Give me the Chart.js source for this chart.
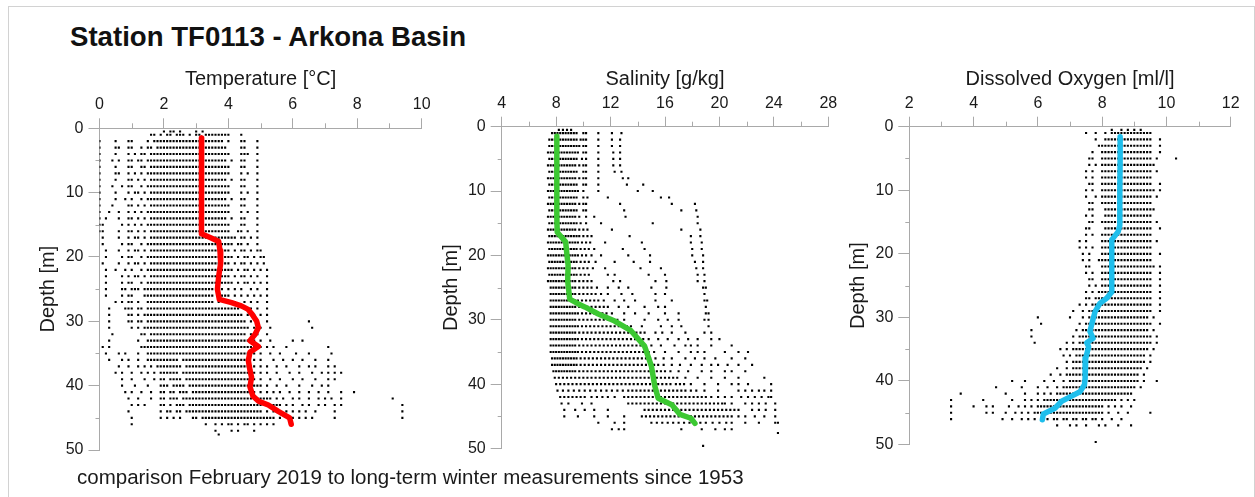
<!DOCTYPE html>
<html>
<head>
<meta charset="utf-8">
<title>Station TF0113 - Arkona Basin</title>
<script src="https://cdn.jsdelivr.net/npm/chart.js@4.4.1/dist/chart.umd.min.js"></script>
<style>
    body { margin: 0; background: #fff; font-family: "Liberation Sans", Arial, sans-serif; }
    #page { position: relative; width: 1255px; height: 497px; overflow: hidden; }
    #frame { position: absolute; left: 8px; top: 6px; width: 1245px; height: 520px; border: 1px solid #d2d2d2; }
    canvas { position: absolute; left: 0; top: 0; }
    #title { position: absolute; left: 70px; top: 22.6px; font-size: 27.6px; line-height: 27.6px; font-weight: bold; color: #111; white-space: nowrap; }
    #note { position: absolute; left: 77px; top: 466.6px; font-size: 20.5px; line-height: 20.5px; color: #1a1a1a; white-space: nowrap; }
</style>
</head>
<body>
<div id="page">
    <div id="frame"></div>
    <div id="title">Station TF0113 - Arkona Basin</div>
    <canvas id="tempChart" width="1255" height="497"></canvas>
    <canvas id="salChart" width="1255" height="497"></canvas>
    <canvas id="oxyChart" width="1255" height="497"></canvas>
    <div id="note">comparison February 2019 to long-term winter measurements since 1953</div>
</div>
<script>
// axis ticks
const tempTicksMinor = [1, 3, 5, 7, 9];
const salTicksMinor = [6, 10, 14, 18, 22, 26];
const oxyTicksMinor = [3, 5, 7, 9, 11];
const depthTicksMinor = [5, 15, 25, 35, 45];

// February 2019 profiles
const tempProfileDepth = [1.5, 4, 8, 12, 16.4, 17.0, 17.6, 19, 21, 23, 25, 26.6, 27.1, 27.6, 28.1, 29, 30, 31, 32, 33, 33.9, 34.8, 36.1, 37.6, 38.7, 40.2, 41.6, 42.4, 43, 44, 45, 46];
const tempProfile = [3.17, 3.16, 3.16, 3.16, 3.18, 3.45, 3.7, 3.74, 3.76, 3.7, 3.66, 3.72, 4.1, 4.4, 4.6, 4.75, 4.88, 4.93, 4.83, 4.67, 4.93, 4.67, 4.62, 4.67, 4.72, 4.67, 4.76, 4.93, 5.24, 5.55, 5.9, 5.95];

const salProfileDepth = [1.5, 5, 10, 14, 16.4, 17.9, 20, 21.5, 24, 26.8, 27.5, 28, 29.1, 30.2, 31.7, 34.1, 37.2, 40.3, 42.2, 43.2, 44.7, 45.3, 46.1];
const salProfile = [8.05, 8.05, 8.05, 8.05, 8.08, 8.7, 8.8, 8.88, 8.85, 9.0, 9.6, 10.1, 11.1, 12.3, 13.5, 14.5, 15.0, 15.25, 15.5, 16.5, 17.1, 17.9, 18.2];

const oxyProfileDepth = [1.6, 5, 10, 15.5, 16.5, 17.8, 20, 25, 26, 27, 27.8, 29.1, 31.2, 32.2, 33.3, 34, 34.6, 36.4, 39.6, 40.6, 41.7, 42.4, 43.2, 44.3, 45.2, 46.1];
const oxyProfile = [8.56, 8.56, 8.55, 8.55, 8.5, 8.3, 8.3, 8.3, 8.3, 8.14, 7.93, 7.78, 7.67, 7.62, 7.72, 7.52, 7.58, 7.49, 7.47, 7.45, 7.31, 7.05, 6.74, 6.53, 6.17, 6.14];

// long-term winter measurements since 1953, one row per depth [m]
const tempRows = [
    [0.5, '2.0 2.2 2.3 2.5 3.0 3.2'],
    [1, '1.6 1.7 1.9 2.1 2.2 2.4 2.5 2.6 2.8 3.0 3.1 3.3 3.4 3.5 3.6 3.7 3.8 3.9 4.0 4.4'],
    [2, '0.0 0.5 0.9 1.0 1.5 1.7 1.8 1.9 2.0 2.1 2.2 2.3 2.4 2.5 2.6 2.7 2.8 2.9 3.0 3.1 3.2 3.3 3.4 3.5 3.6 3.7 3.8 4.0 4.4 4.5 4.9'],
    [3, '0.0 0.5 0.6 0.9 1.0 1.3 1.5 1.6 1.8 1.9 2.0 2.1 2.2 2.3 2.4 2.5 2.6 2.7 2.8 2.9 3.0 3.1 3.2 3.3 3.4 3.5 3.6 3.7 3.8 3.9 4.4 4.5 4.9'],
    [4, '0.0 0.5 0.9 1.1 1.3 1.4 1.6 1.7 1.8 1.9 2.0 2.1 2.2 2.3 2.4 2.5 2.6 2.7 2.8 2.9 3.0 3.1 3.2 3.3 3.4 3.5 3.6 3.7 3.8 3.9 4.0 4.4 4.5 4.6 4.9'],
    [5, '0.0 0.4 0.6 0.9 1.0 1.2 1.3 1.5 1.6 1.7 1.8 1.9 2.0 2.1 2.2 2.3 2.4 2.5 2.6 2.7 2.8 2.9 3.0 3.1 3.2 3.3 3.4 3.5 3.6 3.7 3.8 3.9 4.1 4.4 4.5 4.9'],
    [6, '0.0 0.5 0.9 1.0 1.3 1.4 1.6 1.7 1.8 1.9 2.0 2.1 2.2 2.3 2.4 2.5 2.6 2.7 2.8 2.9 3.0 3.1 3.2 3.3 3.4 3.5 3.6 3.7 3.8 3.9 4.0 4.4 4.5 4.9'],
    [7, '0.0 0.5 0.6 0.9 1.1 1.3 1.5 1.6 1.7 1.8 1.9 2.0 2.1 2.2 2.3 2.4 2.5 2.6 2.7 2.8 2.9 3.0 3.1 3.2 3.3 3.4 3.5 3.6 3.7 3.8 3.9 4.0 4.4 4.6 4.9'],
    [8, '0.0 0.5 0.9 1.0 1.2 1.4 1.6 1.7 1.8 1.9 2.0 2.1 2.2 2.3 2.4 2.5 2.6 2.7 2.8 2.9 3.0 3.1 3.2 3.3 3.4 3.5 3.6 3.7 3.8 3.9 4.1 4.4 4.5 4.9'],
    [9, '0.0 0.4 0.7 0.9 1.0 1.3 1.5 1.6 1.7 1.8 1.9 2.0 2.1 2.2 2.3 2.4 2.5 2.6 2.7 2.8 2.9 3.0 3.1 3.2 3.3 3.4 3.5 3.6 3.7 3.8 3.9 4.0 4.4 4.5 4.9'],
    [10, '0.0 0.5 0.9 1.1 1.2 1.4 1.6 1.7 1.8 1.9 2.0 2.1 2.2 2.3 2.4 2.5 2.6 2.7 2.8 2.9 3.0 3.1 3.2 3.3 3.4 3.5 3.6 3.7 3.8 3.9 4.0 4.4 4.6 4.9'],
    [11, '0.0 0.5 0.8 1.0 1.3 1.5 1.6 1.7 1.8 1.9 2.0 2.1 2.2 2.3 2.4 2.5 2.6 2.7 2.8 2.9 3.0 3.1 3.2 3.3 3.4 3.5 3.6 3.7 3.8 3.9 4.1 4.4 4.5 4.9'],
    [12, '0.0 0.4 0.9 1.0 1.2 1.4 1.6 1.7 1.8 1.9 2.0 2.1 2.2 2.3 2.4 2.5 2.6 2.7 2.8 2.9 3.0 3.1 3.2 3.3 3.4 3.5 3.6 3.7 3.8 3.9 4.0 4.4 4.5 4.9'],
    [13, '0.0 0.3 0.6 0.9 1.1 1.3 1.5 1.6 1.7 1.8 1.9 2.0 2.1 2.2 2.3 2.4 2.5 2.6 2.7 2.8 2.9 3.0 3.1 3.2 3.3 3.4 3.5 3.6 3.7 3.8 3.9 4.0 4.4 4.6 4.9'],
    [14, '0.0 0.2 0.6 0.9 1.0 1.2 1.4 1.6 1.7 1.8 1.9 2.0 2.1 2.2 2.3 2.4 2.5 2.6 2.7 2.8 2.9 3.0 3.1 3.2 3.3 3.4 3.5 3.6 3.7 3.8 3.9 4.1 4.4 4.5 4.9'],
    [15, '0.0 0.1 0.7 0.9 1.1 1.3 1.5 1.6 1.7 1.8 1.9 2.0 2.1 2.2 2.3 2.4 2.5 2.6 2.7 2.8 2.9 3.0 3.1 3.2 3.3 3.4 3.5 3.6 3.7 3.8 3.9 4.0 4.4 4.5 4.9'],
    [16, '0.0 0.1 0.6 0.9 1.0 1.2 1.4 1.6 1.7 1.8 1.9 2.0 2.1 2.2 2.3 2.4 2.5 2.6 2.7 2.8 2.9 3.0 3.1 3.2 3.3 3.4 3.5 3.6 3.7 3.8 3.9 4.0 4.3 4.4 4.6 4.9'],
    [17, '0.1 0.6 0.9 1.1 1.2 1.4 1.6 1.7 1.8 1.9 2.0 2.1 2.2 2.3 2.4 2.5 2.6 2.7 2.8 2.9 3.0 3.1 3.2 3.3 3.4 3.5 3.6 3.7 3.8 3.9 4.0 4.1 4.2 4.4 4.5 4.7 4.9'],
    [18, '0.1 0.7 0.9 1.0 1.3 1.5 1.6 1.7 1.8 1.9 2.0 2.1 2.2 2.3 2.4 2.5 2.6 2.7 2.8 2.9 3.0 3.1 3.2 3.3 3.4 3.5 3.6 3.7 3.8 3.9 4.0 4.1 4.3 4.4 4.6 4.9'],
    [19, '0.2 0.6 0.9 1.1 1.2 1.4 1.6 1.7 1.8 1.9 2.0 2.1 2.2 2.3 2.4 2.5 2.6 2.7 2.8 2.9 3.0 3.1 3.2 3.3 3.4 3.5 3.6 3.7 3.8 3.9 4.0 4.2 4.4 4.5 4.7 4.9 5.0'],
    [20, '0.2 0.7 0.9 1.0 1.3 1.5 1.6 1.7 1.8 1.9 2.0 2.1 2.2 2.3 2.4 2.5 2.6 2.7 2.8 2.9 3.0 3.1 3.2 3.3 3.4 3.5 3.6 3.7 3.8 3.9 4.0 4.1 4.3 4.5 4.6 4.8 5.0 5.1'],
    [21, '0.1 0.6 0.9 1.1 1.2 1.4 1.6 1.7 1.8 1.9 2.0 2.1 2.2 2.3 2.4 2.5 2.6 2.7 2.8 2.9 3.0 3.1 3.2 3.3 3.4 3.5 3.6 3.7 3.8 3.9 4.0 4.2 4.4 4.5 4.7 4.9 5.1'],
    [22, '0.2 0.5 0.8 1.0 1.3 1.5 1.6 1.7 1.8 1.9 2.0 2.1 2.2 2.3 2.4 2.5 2.6 2.7 2.8 2.9 3.0 3.1 3.2 3.3 3.4 3.5 3.6 3.7 3.8 3.9 4.0 4.1 4.3 4.5 4.6 4.8 5.0 5.2'],
    [23, '0.2 0.7 0.9 1.1 1.2 1.4 1.6 1.7 1.8 1.9 2.0 2.1 2.2 2.3 2.4 2.5 2.6 2.7 2.8 2.9 3.0 3.1 3.2 3.3 3.4 3.5 3.6 3.7 3.8 3.9 4.0 4.2 4.4 4.5 4.7 4.9 5.2'],
    [24, '0.2 0.7 0.9 1.0 1.3 1.5 1.6 1.7 1.8 1.9 2.0 2.1 2.2 2.3 2.4 2.5 2.6 2.7 2.8 2.9 3.0 3.1 3.2 3.3 3.4 3.5 3.6 3.7 3.8 3.9 4.0 4.1 4.3 4.5 4.6 4.8 5.0 5.2'],
    [25, '0.2 0.7 0.8 1.0 1.1 1.2 1.4 1.5 1.6 1.7 1.8 1.9 2.0 2.1 2.2 2.3 2.4 2.5 2.6 2.7 2.8 2.9 3.0 3.1 3.2 3.3 3.4 3.5 3.7 3.8 4.0 4.2 4.4 4.7 4.9 5.2'],
    [26, '0.2 0.7 0.9 1.0 1.4 1.5 1.6 1.7 1.8 1.9 2.0 2.1 2.2 2.3 2.4 2.5 2.6 2.7 2.8 2.9 3.0 3.1 3.2 3.3 3.4 3.5 3.8 3.9 4.0 4.2 4.4 4.6 4.8 5.0 5.2'],
    [27, '0.5 0.7 0.9 1.0 1.2 1.5 1.6 1.7 1.8 1.9 2.0 2.1 2.2 2.3 2.4 2.5 2.6 2.7 2.8 2.9 3.0 3.1 3.2 3.3 3.4 3.5 3.7 3.9 4.0 4.2 4.5 4.7 4.9 5.2'],
    [28, '0.3 0.8 0.9 1.0 1.2 1.3 1.5 1.6 1.7 1.8 1.9 2.0 2.1 2.2 2.3 2.4 2.5 2.6 2.7 2.8 2.9 3.0 3.1 3.2 3.3 3.4 3.5 3.6 3.7 3.8 3.9 4.0 4.1 4.2 4.3 4.5 4.7 4.9 5.2'],
    [29, '0.3 0.9 1.0 1.2 1.4 1.5 1.6 1.7 1.8 1.9 2.0 2.1 2.2 2.3 2.4 2.5 2.6 2.7 2.8 2.9 3.0 3.1 3.2 3.3 3.4 3.5 3.6 3.7 3.8 3.9 4.0 4.1 4.2 4.3 4.4 4.6 4.8 5.0 5.2'],
    [30, '0.3 0.9 1.0 1.2 1.3 1.5 1.6 1.7 1.8 1.9 2.0 2.1 2.2 2.3 2.4 2.5 2.6 2.7 2.8 2.9 3.0 3.1 3.2 3.3 3.4 3.5 3.6 3.7 3.8 3.9 4.0 4.1 4.2 4.3 4.4 4.5 4.7 4.9 5.2 6.5'],
    [31, '0.3 1.0 1.2 1.4 1.5 1.6 1.7 1.8 1.9 2.0 2.1 2.2 2.3 2.4 2.5 2.6 2.7 2.8 2.9 3.0 3.1 3.2 3.3 3.4 3.5 3.6 3.7 3.8 3.9 4.0 4.1 4.2 4.3 4.4 4.5 4.6 4.8 5.0 5.3 6.6'],
    [32, '0.4 1.3 1.4 1.6 1.7 1.8 1.9 2.0 2.1 2.2 2.3 2.4 2.5 2.6 2.7 2.8 2.9 3.0 3.1 3.2 3.3 3.4 3.5 3.6 3.7 3.8 3.9 4.0 4.1 4.2 4.3 4.4 4.5 4.7 4.9 5.2'],
    [33, '0.3 1.2 1.5 1.6 1.7 1.8 1.9 2.0 2.1 2.2 2.3 2.4 2.5 2.6 2.7 2.8 2.9 3.0 3.1 3.2 3.3 3.4 3.5 3.6 3.7 3.8 3.9 4.0 4.1 4.2 4.3 4.4 4.5 4.6 4.8 5.0 5.3 6.0 6.3'],
    [34, '0.1 0.3 1.3 1.4 1.5 1.6 1.7 1.8 1.9 2.0 2.1 2.2 2.3 2.4 2.5 2.6 2.7 2.8 2.9 3.0 3.1 3.2 3.3 3.4 3.5 3.6 3.7 3.8 3.9 4.0 4.1 4.2 4.3 4.4 4.5 4.6 4.7 4.8 5.0 5.2 5.4 5.8 7.1'],
    [35, '0.2 0.6 0.8 1.2 1.5 1.6 1.7 1.8 1.9 2.0 2.1 2.2 2.3 2.4 2.5 2.6 2.7 2.8 2.9 3.0 3.1 3.2 3.3 3.4 3.5 3.6 3.7 3.8 3.9 4.0 4.1 4.2 4.3 4.4 4.5 4.6 4.8 5.0 5.3 5.6 6.1 6.5 7.2'],
    [36, '0.3 0.7 0.9 1.2 1.5 1.6 1.7 1.8 1.9 2.0 2.1 2.2 2.3 2.4 2.6 2.7 2.8 2.9 3.0 3.1 3.2 3.3 3.4 3.5 3.6 3.7 3.8 3.9 4.0 4.1 4.2 4.3 4.4 4.5 4.6 4.8 5.0 5.4 5.7 6.0 6.3 6.7 7.1'],
    [37, '0.6 0.9 1.2 1.4 1.6 1.8 1.9 2.0 2.1 2.2 2.3 2.4 2.5 2.7 2.8 2.9 3.0 3.1 3.2 3.3 3.4 3.5 3.6 3.7 3.8 3.9 4.0 4.1 4.2 4.3 4.4 4.5 4.6 4.7 4.8 5.0 5.2 5.5 5.8 6.2 6.5 6.7 7.1 7.3'],
    [38, '0.5 0.7 1.0 1.3 1.5 1.7 1.9 2.0 2.1 2.2 2.3 2.4 2.6 2.7 2.8 2.9 3.0 3.1 3.2 3.3 3.4 3.5 3.6 3.7 3.8 3.9 4.0 4.1 4.2 4.3 4.4 4.5 4.6 4.7 4.8 5.0 5.2 5.5 5.9 6.2 6.6 6.9 7.1 7.3 7.5'],
    [39, '0.7 1.0 1.4 1.7 1.9 2.0 2.2 2.3 2.4 2.5 2.7 2.8 2.9 3.0 3.1 3.2 3.3 3.4 3.5 3.6 3.7 3.8 3.9 4.0 4.1 4.2 4.3 4.4 4.5 4.6 4.7 4.8 5.0 5.3 5.6 6.0 6.3 6.7 7.1 7.3'],
    [40, '0.7 1.1 1.5 1.9 2.0 2.1 2.3 2.4 2.5 2.6 2.8 2.9 3.0 3.1 3.2 3.3 3.4 3.5 3.6 3.7 3.8 3.9 4.0 4.1 4.2 4.3 4.4 4.5 4.6 4.7 4.8 4.9 5.0 5.2 5.5 5.8 6.2 6.6 6.9 7.1'],
    [41, '0.8 1.0 1.3 1.6 1.9 2.0 2.2 2.3 2.5 2.6 2.7 2.9 3.0 3.1 3.2 3.3 3.4 3.5 3.6 3.7 3.8 3.9 4.0 4.1 4.2 4.3 4.4 4.5 4.6 4.7 4.8 5.0 5.2 5.4 5.6 5.9 6.2 6.5 6.8 7.1 7.5 7.9'],
    [42, '0.9 1.2 1.6 1.9 2.0 2.2 2.3 2.4 2.6 2.7 2.8 2.9 3.0 3.1 3.2 3.3 3.4 3.5 3.6 3.7 3.8 3.9 4.0 4.1 4.2 4.3 4.4 4.5 4.6 4.7 4.8 4.9 5.0 5.1 5.2 5.3 5.5 5.7 6.0 6.2 6.5 6.8 7.0 7.2 7.5 9.1'],
    [43, '1.0 1.2 1.4 1.9 2.0 2.2 2.4 2.5 2.6 2.8 2.9 3.0 3.1 3.2 3.3 3.4 3.5 3.6 3.7 3.8 3.9 4.0 4.1 4.2 4.3 4.4 4.5 4.6 4.7 4.8 4.9 5.0 5.1 5.2 5.3 5.4 5.5 5.6 5.8 6.0 6.3 6.5 6.8 7.0 7.3 7.5 9.4'],
    [44, '0.9 1.9 2.1 2.2 2.4 2.5 2.7 2.8 2.9 3.0 3.1 3.2 3.3 3.4 3.5 3.6 3.7 3.8 3.9 4.0 4.1 4.2 4.3 4.4 4.5 4.6 4.7 4.8 4.9 5.0 5.2 5.4 5.5 5.6 5.8 6.0 6.2 6.4 6.7 7.3 9.4'],
    [45, '1.0 1.9 2.1 2.3 2.5 2.9 3.0 3.2 3.3 3.4 3.5 3.6 3.7 3.8 3.9 4.0 4.1 4.2 4.3 4.4 4.5 4.6 4.7 4.8 4.9 5.0 5.1 5.2 5.3 5.4 5.6 6.0 6.2 6.4 6.6 7.3 9.4'],
    [46, '1.0 3.3 3.6 3.8 4.0 4.1 4.3 4.5 4.6 4.8 5.0 5.2 5.4'],
    [47, '3.6 4.1 4.3 4.8'],
    [47.6, '3.7']
];

const salRows = [
    [0.5, '8.2 8.5 8.8 9.1'],
    [1, '7.7 7.9 8.1 8.3 8.5 8.7 8.9 9.1 9.3 9.5 10.0 10.2 11.1 12.1 12.8'],
    [2, '7.5 7.7 7.9 8.1 8.3 8.5 8.7 8.9 9.1 9.3 9.5 9.8 10.0 10.2 11.1 12.1 12.7'],
    [3, '7.5 7.7 7.9 8.1 8.3 8.5 8.7 8.9 9.1 9.3 9.5 9.7 10.0 10.2 11.1 12.1 12.7'],
    [4, '7.4 7.6 7.8 8.0 8.2 8.4 8.6 8.8 9.0 9.2 9.4 9.6 10.0 10.2 11.1 12.2 12.7'],
    [5, '7.5 7.7 7.9 8.1 8.3 8.5 8.7 8.9 9.1 9.3 9.5 9.9 10.2 11.1 12.2 12.7'],
    [6, '7.4 7.6 7.8 8.0 8.2 8.4 8.6 8.8 9.0 9.2 9.4 9.7 10.0 10.2 11.1 12.2 12.7'],
    [7, '7.5 7.7 7.9 8.1 8.3 8.5 8.7 8.9 9.1 9.3 9.5 10.0 10.2 11.1 12.3 12.8'],
    [8, '7.4 7.6 7.8 8.0 8.2 8.4 8.6 8.8 9.0 9.2 9.4 9.7 10.0 10.2 11.1 12.9 13.3'],
    [9, '7.5 7.7 7.9 8.1 8.3 8.5 8.7 8.9 9.1 9.3 9.5 10.0 10.2 11.1 13.2 14.4'],
    [10, '7.4 7.6 7.8 8.0 8.2 8.4 8.6 8.8 9.0 9.2 9.4 9.6 10.0 11.1 14.0 15.1'],
    [11, '7.5 7.7 7.9 8.1 8.3 8.5 8.7 8.9 9.1 9.3 9.5 10.0 10.3 11.8 15.7 16.3'],
    [12, '7.4 7.6 7.8 8.0 8.2 8.4 8.6 8.8 9.0 9.2 9.4 9.7 10.0 10.2 12.7 16.5 18.2'],
    [13, '7.5 7.7 7.9 8.1 8.3 8.5 8.7 8.9 9.1 9.3 9.5 10.0 10.2 13.0 17.2 18.3'],
    [14, '7.4 7.6 7.8 8.0 8.2 8.4 8.6 8.8 9.0 9.2 9.4 9.7 10.2 10.8 13.1 18.4'],
    [15, '7.5 7.7 7.9 8.1 8.3 8.5 8.7 8.9 9.1 9.3 9.5 9.8 10.2 11.3 15.1 18.4'],
    [16, '7.4 7.6 7.8 8.0 8.2 8.4 8.6 8.8 9.0 9.2 9.4 9.7 10.0 10.3 12.1 17.2 18.6'],
    [17, '7.5 7.7 7.9 8.1 8.3 8.5 8.7 8.9 9.1 9.3 9.5 9.7 10.0 10.3 10.6 13.4 17.9 18.6'],
    [18, '7.4 7.6 7.8 8.0 8.2 8.4 8.6 8.8 9.0 9.2 9.4 9.6 9.9 10.2 10.5 11.6 14.3 17.9 18.7'],
    [19, '7.5 7.7 7.9 8.1 8.3 8.5 8.7 8.9 9.1 9.3 9.5 9.8 10.1 10.4 10.8 12.9 14.5 18.0 18.7'],
    [20, '7.4 7.6 7.8 8.0 8.2 8.4 8.6 8.8 9.0 9.2 9.4 9.6 9.9 10.2 10.6 11.3 13.3 14.9 18.0 18.8'],
    [21, '7.5 7.7 7.9 8.1 8.3 8.5 8.7 8.9 9.1 9.3 9.5 9.8 10.1 10.4 10.9 12.3 13.7 14.9 18.2 18.8'],
    [22, '7.4 7.6 7.8 8.0 8.2 8.4 8.6 8.8 9.0 9.2 9.4 9.7 10.0 10.3 10.7 11.6 14.2 15.7 18.3 18.8'],
    [23, '7.5 7.7 7.9 8.1 8.3 8.5 8.7 8.9 9.1 9.3 9.5 9.8 10.1 10.4 11.8 12.3 14.8 16.0 18.4 18.9'],
    [24, '7.4 7.6 7.8 8.0 8.2 8.4 8.6 8.8 9.0 9.2 9.4 9.7 10.0 10.3 10.6 12.2 12.7 15.3 16.1 18.4 18.9'],
    [25, '7.6 7.8 8.0 8.2 8.4 8.6 8.8 9.0 9.2 9.4 9.7 10.0 10.3 10.6 11.0 11.8 12.6 13.3 15.0 16.1 18.8 19.0'],
    [26, '7.6 7.8 8.0 8.2 8.4 8.6 8.8 9.0 9.2 9.4 9.7 10.0 10.3 10.6 10.9 11.3 11.8 12.8 13.6 15.3 16.0 18.9'],
    [27, '7.6 7.8 8.0 8.2 8.4 8.6 8.8 9.0 9.2 9.4 9.6 9.9 10.2 10.5 10.8 11.1 11.5 12.3 13.0 13.8 15.3 16.5 18.9 19.1'],
    [28, '7.6 7.8 8.0 8.2 8.4 8.6 8.8 9.0 9.2 9.4 9.7 10.0 10.3 10.6 10.9 11.2 11.5 11.8 12.6 13.3 14.5 15.5 16.0 19.0'],
    [29, '7.6 7.8 8.0 8.2 8.4 8.6 8.8 9.0 9.2 9.4 9.6 9.9 10.2 10.5 10.8 11.1 11.4 11.7 12.1 13.0 13.8 14.8 16.0 17.0 19.0 19.2'],
    [30, '7.6 7.8 8.0 8.2 8.4 8.6 8.8 9.0 9.2 9.4 9.7 10.0 10.3 10.6 10.9 11.2 11.5 11.8 12.1 12.5 13.0 14.5 15.5 16.2 17.0 18.9 19.2'],
    [31, '7.6 7.8 8.0 8.2 8.4 8.6 8.8 9.0 9.2 9.4 9.6 9.9 10.2 10.5 10.8 11.1 11.4 11.7 12.0 12.3 12.6 12.9 13.2 13.5 14.3 15.7 16.5 17.2 19.2'],
    [32, '7.6 7.8 8.0 8.2 8.4 8.6 8.8 9.0 9.2 9.4 9.7 10.0 10.3 10.6 10.9 11.2 11.5 11.8 12.1 12.4 12.7 13.0 13.3 13.6 13.9 14.2 14.5 15.3 15.8 16.5 17.5 18.9 19.4'],
    [33, '7.6 7.8 8.0 8.2 8.4 8.6 8.8 9.0 9.2 9.4 9.6 9.9 10.2 10.5 10.8 11.1 11.4 11.7 12.0 12.3 12.6 12.9 13.2 13.5 13.8 14.1 14.4 14.8 15.5 16.2 17.0 17.7 18.4 19.4 20.0'],
    [34, '7.6 7.8 8.0 8.2 8.4 8.6 8.8 9.0 9.2 9.4 9.7 10.0 10.3 10.6 10.9 11.2 11.5 11.8 12.1 12.4 12.7 13.0 13.3 13.6 13.9 14.2 14.5 15.0 15.7 16.7 17.5 17.9 18.4 19.4 20.9'],
    [35, '7.6 7.8 8.0 8.2 8.4 8.6 8.8 9.0 9.2 9.4 9.6 9.9 10.2 10.5 10.8 11.1 11.4 11.7 12.0 12.3 12.6 12.9 13.2 13.5 13.8 14.1 14.4 14.8 15.2 16.0 17.0 17.9 18.4 18.9 20.4 21.4 22.1'],
    [36, '7.7 7.9 8.1 8.3 8.5 8.7 8.9 9.1 9.3 9.5 9.8 10.1 10.4 10.7 11.0 11.3 11.6 11.9 12.2 12.5 12.8 13.1 13.4 13.7 14.0 14.3 14.6 14.9 15.3 15.9 16.5 17.5 18.2 18.9 19.7 20.9 21.9'],
    [37, '7.7 7.9 8.1 8.3 8.5 8.7 8.9 9.1 9.3 9.5 9.8 10.1 10.4 10.7 11.0 11.3 11.6 11.9 12.2 12.5 12.8 13.1 13.4 13.7 14.0 14.3 14.6 14.9 15.2 15.5 15.9 16.5 17.1 17.9 18.7 19.4 19.9 20.6 21.4 22.4'],
    [38, '7.8 8.0 8.2 8.4 8.6 8.8 9.0 9.2 9.4 9.7 10.0 10.3 10.6 10.9 11.2 11.5 11.8 12.1 12.4 12.7 13.0 13.3 13.6 13.9 14.2 14.5 14.8 15.1 15.4 15.7 16.0 16.4 17.0 17.7 18.7 19.4 20.4 20.9 21.9'],
    [39, '7.9 8.2 8.5 8.8 9.1 9.4 9.7 10.0 10.3 10.6 10.9 11.2 11.5 11.8 12.1 12.4 12.7 13.0 13.3 13.6 13.9 14.2 14.5 14.8 15.1 15.4 15.7 16.0 16.3 16.6 16.9 17.5 18.4 19.4 20.4 21.4 23.3'],
    [40, '8.0 8.3 8.6 8.9 9.2 9.5 9.8 10.1 10.4 10.7 11.0 11.3 11.6 11.9 12.2 12.5 12.8 13.1 13.4 13.7 14.0 14.3 14.6 14.9 15.2 15.5 15.8 16.1 16.4 16.8 17.1 17.4 17.9 18.9 19.9 20.9 21.4 22.1 23.8'],
    [41, '8.1 8.5 8.9 9.3 9.7 10.1 10.5 10.9 11.3 11.7 12.1 12.5 12.9 13.3 13.6 13.9 14.2 14.5 14.8 15.1 15.4 15.7 16.0 16.3 16.6 16.9 17.2 17.5 17.9 18.3 18.9 19.9 21.4 21.9 22.4 22.9 23.3 23.8'],
    [42, '8.3 8.6 8.9 9.2 9.5 9.8 10.1 10.6 11.0 11.4 11.8 12.3 13.0 13.3 13.6 13.9 14.2 14.5 14.8 15.1 15.4 15.7 16.0 16.3 16.6 16.9 17.2 17.5 17.8 18.1 18.4 18.7 19.0 19.4 19.9 20.4 20.9 21.6 22.1 22.6 23.1 23.6 23.8'],
    [43, '8.4 8.9 9.9 10.6 13.3 13.6 13.9 14.2 14.5 14.8 15.1 15.4 15.7 16.0 16.3 16.6 16.9 17.2 17.5 17.8 18.1 18.4 18.7 19.0 19.3 19.6 19.9 20.2 20.4 20.9 21.9 22.4 22.9 23.4 24.1'],
    [44, '8.6 9.4 10.1 10.8 11.8 14.5 14.8 15.1 15.4 15.7 16.0 16.3 16.6 16.9 17.2 17.5 17.8 18.1 18.4 18.7 19.0 19.3 19.6 19.9 20.2 20.5 20.8 21.1 21.4 22.4 22.9 23.4 24.1'],
    [45, '8.6 9.6 10.8 11.8 13.0 14.3 14.6 14.9 15.2 15.5 15.8 16.1 16.4 16.7 17.0 17.3 17.6 17.9 18.2 18.5 18.8 19.1 19.4 19.7 20.0 20.3 20.6 20.9 21.4 21.9 22.6 23.3 24.1'],
    [46, '11.1 12.3 13.0 15.0 15.4 15.8 16.2 16.6 17.0 17.4 17.8 18.2 18.6 19.0 19.5 20.0 20.5 20.9 21.9 22.9 24.1 24.3'],
    [47, '12.1 12.6 13.0 17.2 18.7 19.7 20.4 20.9'],
    [47.6, '24.3'],
    [49.6, '18.8']
];

const oxyRows = [
    [0.5, '8.3 8.6 8.8 9.0 9.2'],
    [1, '7.5 7.8 8.1 8.3 8.4 8.5 8.6 8.7 8.8 8.9 9.0 9.1 9.2 9.3 9.4 9.5'],
    [2, '7.8 8.1 8.2 8.3 8.4 8.5 8.6 8.7 8.8 8.9 9.0 9.1 9.2 9.3 9.4 9.5 9.8'],
    [3, '7.9 8.0 8.1 8.2 8.3 8.4 8.5 8.6 8.7 8.8 8.9 9.0 9.1 9.2 9.3 9.4 9.5 9.8'],
    [4, '7.7 8.0 8.1 8.2 8.3 8.4 8.5 8.6 8.7 8.8 8.9 9.0 9.1 9.2 9.3 9.4 9.5 9.8'],
    [5, '7.6 7.7 8.0 8.1 8.2 8.3 8.4 8.5 8.6 8.7 8.8 8.9 9.0 9.1 9.2 9.3 9.4 9.5 9.7 10.3'],
    [6, '7.6 7.8 8.0 8.1 8.2 8.3 8.4 8.5 8.6 8.7 8.8 8.9 9.0 9.1 9.2 9.3 9.4 9.5 9.6'],
    [7, '7.5 7.7 8.0 8.1 8.2 8.3 8.4 8.5 8.6 8.7 8.8 8.9 9.0 9.1 9.2 9.3 9.4 9.5 9.7'],
    [8, '7.5 7.7 8.0 8.1 8.2 8.3 8.4 8.5 8.6 8.7 8.8 8.9 9.0 9.1 9.2 9.3 9.4 9.5'],
    [9, '7.6 7.7 8.0 8.1 8.2 8.3 8.4 8.5 8.6 8.7 8.8 8.9 9.0 9.1 9.2 9.3 9.4 9.5 9.8'],
    [10, '7.5 7.7 8.0 8.1 8.2 8.3 8.4 8.5 8.6 8.7 8.8 8.9 9.0 9.1 9.2 9.3 9.4 9.5 9.6 9.8'],
    [11, '7.5 7.8 8.0 8.1 8.2 8.3 8.4 8.5 8.6 8.7 8.8 8.9 9.0 9.1 9.2 9.3 9.4 9.5 9.7'],
    [12, '7.6 7.7 8.0 8.1 8.2 8.3 8.4 8.5 8.6 8.7 8.8 8.9 9.0 9.1 9.2 9.3 9.4 9.5'],
    [13, '7.6 7.7 8.1 8.2 8.3 8.4 8.5 8.6 8.7 8.8 8.9 9.0 9.1 9.2 9.3 9.4 9.5 9.6'],
    [14, '7.5 7.7 8.1 8.2 8.3 8.4 8.5 8.6 8.7 8.8 8.9 9.0 9.1 9.2 9.3 9.4 9.5'],
    [15, '7.6 7.7 8.0 8.1 8.2 8.3 8.4 8.5 8.6 8.7 8.8 8.9 9.0 9.1 9.2 9.3 9.4 9.5 9.7'],
    [16, '7.5 7.6 8.1 8.2 8.3 8.4 8.5 8.6 8.7 8.8 8.9 9.0 9.1 9.2 9.3 9.4 9.5 9.8'],
    [17, '7.5 7.7 8.0 8.1 8.2 8.3 8.4 8.5 8.6 8.7 8.8 8.9 9.0 9.1 9.2 9.3 9.4 9.5'],
    [18, '7.3 7.5 8.0 8.1 8.2 8.3 8.4 8.5 8.6 8.7 8.8 8.9 9.0 9.1 9.2 9.3 9.4 9.5 9.7'],
    [19, '7.3 7.5 7.7 8.0 8.1 8.2 8.3 8.4 8.5 8.6 8.7 8.8 8.9 9.0 9.1 9.2 9.3 9.4 9.5'],
    [20, '7.4 7.6 8.0 8.1 8.2 8.3 8.4 8.5 8.6 8.7 8.8 8.9 9.0 9.1 9.2 9.3 9.4 9.5 9.8'],
    [21, '7.4 7.6 7.9 8.0 8.1 8.2 8.3 8.4 8.5 8.6 8.7 8.8 8.9 9.0 9.1 9.2 9.3 9.4 9.5'],
    [22, '7.5 7.6 8.0 8.1 8.2 8.3 8.4 8.5 8.6 8.7 8.8 8.9 9.0 9.1 9.2 9.3 9.4 9.5 9.6 9.8'],
    [23, '7.5 7.7 8.0 8.1 8.2 8.3 8.4 8.5 8.6 8.7 8.8 8.9 9.0 9.1 9.2 9.3 9.4 9.5 9.8'],
    [24, '7.6 7.7 8.0 8.1 8.2 8.3 8.4 8.5 8.6 8.7 8.8 8.9 9.0 9.1 9.2 9.3 9.4 9.5 9.8'],
    [25, '7.6 7.8 8.0 8.1 8.2 8.3 8.4 8.5 8.6 8.7 8.8 8.9 9.0 9.1 9.2 9.3 9.4 9.5 9.8'],
    [26, '7.5 7.7 7.9 8.0 8.1 8.2 8.3 8.4 8.5 8.6 8.7 8.8 8.9 9.0 9.1 9.2 9.3 9.4 9.5 9.8'],
    [27, '7.5 7.6 7.8 7.9 8.0 8.1 8.2 8.3 8.4 8.5 8.6 8.7 8.8 8.9 9.0 9.1 9.2 9.3 9.4 9.5 9.8'],
    [28, '7.3 7.5 7.7 7.8 7.9 8.0 8.1 8.2 8.3 8.4 8.5 8.6 8.7 8.8 8.9 9.0 9.1 9.2 9.3 9.4 9.5 9.8'],
    [29, '7.1 7.4 7.6 7.7 7.8 7.9 8.0 8.1 8.2 8.3 8.4 8.5 8.6 8.7 8.8 8.9 9.0 9.1 9.2 9.3 9.4 9.5 9.8'],
    [30, '6.0 7.0 7.4 7.6 7.7 7.8 7.9 8.0 8.1 8.2 8.3 8.4 8.5 8.6 8.7 8.8 8.9 9.0 9.1 9.2 9.3 9.4 9.6'],
    [31, '6.1 7.3 7.5 7.6 7.7 7.8 7.9 8.0 8.1 8.2 8.3 8.4 8.5 8.6 8.7 8.8 8.9 9.0 9.1 9.2 9.3 9.4 9.5 9.8'],
    [32, '5.8 7.2 7.4 7.5 7.6 7.7 7.8 7.9 8.0 8.1 8.2 8.3 8.4 8.5 8.6 8.7 8.8 8.9 9.0 9.1 9.2 9.3 9.4 9.6'],
    [33, '5.8 7.1 7.3 7.4 7.5 7.6 7.7 7.8 7.9 8.0 8.1 8.2 8.3 8.4 8.5 8.6 8.7 8.8 8.9 9.0 9.1 9.2 9.3 9.4 9.5 9.7'],
    [34, '5.9 6.9 7.1 7.3 7.4 7.5 7.6 7.7 7.8 7.9 8.0 8.1 8.2 8.3 8.4 8.5 8.6 8.7 8.8 8.9 9.0 9.1 9.2 9.3 9.4 9.5 9.7'],
    [35, '6.7 6.9 7.1 7.2 7.3 7.4 7.5 7.6 7.7 7.8 7.9 8.0 8.1 8.2 8.3 8.4 8.5 8.6 8.7 8.8 8.9 9.0 9.1 9.2 9.3 9.4 9.6'],
    [36, '6.8 7.0 7.2 7.3 7.4 7.5 7.6 7.7 7.8 7.9 8.0 8.1 8.2 8.3 8.4 8.5 8.6 8.7 8.8 8.9 9.0 9.1 9.2 9.3 9.5'],
    [37, '6.9 7.1 7.2 7.3 7.4 7.5 7.6 7.7 7.8 7.9 8.0 8.1 8.2 8.3 8.4 8.5 8.6 8.7 8.8 8.9 9.0 9.1 9.2 9.3 9.5'],
    [38, '6.6 6.9 7.1 7.2 7.3 7.4 7.5 7.6 7.7 7.8 7.9 8.0 8.1 8.2 8.3 8.4 8.5 8.6 8.7 8.8 8.9 9.0 9.1 9.2 9.4'],
    [39, '6.4 6.7 6.9 7.0 7.1 7.2 7.3 7.4 7.5 7.6 7.7 7.8 7.9 8.0 8.1 8.2 8.3 8.4 8.5 8.6 8.7 8.8 8.9 9.0 9.1 9.3'],
    [40, '5.2 5.6 6.2 6.5 6.8 7.0 7.1 7.2 7.3 7.4 7.5 7.6 7.7 7.8 7.9 8.0 8.1 8.2 8.3 8.4 8.5 8.6 8.7 8.8 8.9 9.0 9.1 9.3 9.7'],
    [41, '4.7 5.5 6.0 6.3 6.6 6.8 6.9 7.0 7.1 7.2 7.3 7.4 7.5 7.6 7.7 7.8 7.9 8.0 8.1 8.2 8.3 8.4 8.5 8.6 8.7 8.8 8.9 9.0 9.2'],
    [42, '3.6 5.0 5.6 6.0 6.2 6.4 6.6 6.7 6.8 6.9 7.0 7.1 7.2 7.3 7.4 7.5 7.6 7.7 7.8 7.9 8.0 8.1 8.2 8.3 8.4 8.5 8.6 8.7 8.8 8.9'],
    [43, '3.3 4.3 5.2 5.6 5.8 6.0 6.2 6.3 6.4 6.5 6.6 6.7 6.8 6.9 7.0 7.1 7.2 7.3 7.4 7.5 7.6 7.7 7.8 7.9 8.0 8.1 8.2 8.3 8.4 8.6 8.8 9.0'],
    [44, '3.3 4.0 4.4 4.6 5.1 5.4 5.6 5.8 6.0 6.1 6.2 6.3 6.4 6.5 6.6 6.7 6.8 6.9 7.0 7.1 7.2 7.3 7.4 7.5 7.6 7.7 7.8 7.9 8.0 8.2 8.4 8.6 8.9'],
    [45, '3.3 4.4 4.6 5.0 5.3 5.5 5.7 5.9 6.0 6.1 6.2 6.3 6.4 6.5 6.6 6.7 6.8 6.9 7.0 7.1 7.2 7.3 7.4 7.5 7.6 7.7 7.8 7.9 8.0 8.2 8.5 8.8 9.5'],
    [46, '3.3 4.9 5.2 5.5 5.7 5.9 6.1 6.3 6.5 6.6 6.8 6.9 7.1 7.2 7.4 7.5 7.7 7.8 8.0 8.3 8.6'],
    [47, '6.6 7.0 7.2 7.5 7.9 8.1 8.5 8.9'],
    [49.6, '7.8']
];

const axisColor = '#a9a9a9';
const fontFamily = '"Liberation Sans", Arial, sans-serif';
Chart.defaults.font.family = fontFamily;
Chart.defaults.color = '#1a1a1a';

function rowsToPoints(rows) {
    const pts = [];
    rows.forEach(function (row) {
        row[1].split(' ').forEach(function (v) {
            pts.push({ x: parseFloat(v), y: row[0] });
        });
    });
    return pts;
}

function profileToPoints(depths, values) {
    return depths.map((d, i) => ({ x: values[i], y: d }));
}

// short ticks between the labelled ones
const minorTicks = {
    id: 'minorTicks',
    afterDraw(chart, args, opts) {
        const { ctx, chartArea, scales } = chart;
        ctx.save();
        ctx.strokeStyle = axisColor;
        ctx.lineWidth = 1;
        opts.x.forEach(function (v) {
            const px = Math.round(scales.x.getPixelForValue(v)) + 0.5;
            ctx.beginPath();
            ctx.moveTo(px, chartArea.top);
            ctx.lineTo(px, chartArea.top - 5);
            ctx.stroke();
        });
        opts.y.forEach(function (v) {
            const py = Math.round(scales.y.getPixelForValue(v)) + 0.5;
            ctx.beginPath();
            ctx.moveTo(chartArea.left, py);
            ctx.lineTo(chartArea.left - 4, py);
            ctx.stroke();
        });
        ctx.restore();
    }
};

function drawPanel(canvasId, p) {
    const ctx = document.getElementById(canvasId).getContext('2d');
    new Chart(ctx, {
        type: 'scatter',
        data: {
            datasets: [{
                data: profileToPoints(p.profileDepth, p.profile),
                showLine: true,
                borderColor: p.color,
                borderWidth: 5.5,
                borderCapStyle: 'round',
                borderJoinStyle: 'round',
                pointRadius: 0,
                order: 0
            }, {
                data: rowsToPoints(p.rows),
                backgroundColor: '#000',
                borderWidth: 0,
                pointStyle: 'rect',
                pointRadius: 1.5,
                order: 1
            }]
        },
        options: {
            responsive: false,
            animation: false,
            devicePixelRatio: 1,
            events: [],
            layout: {
                padding: { left: p.left - p.yWidth, top: p.top - p.xHeight, right: 1255 - p.right, bottom: 497 - p.bottom }
            },
            plugins: {
                legend: { display: false },
                tooltip: { enabled: false },
                minorTicks: { x: p.minorX, y: depthTicksMinor }
            },
            scales: {
                x: {
                    type: 'linear',
                    position: 'top',
                    min: p.min,
                    max: p.max,
                    ticks: { stepSize: p.step, padding: 4, maxRotation: 0, autoSkip: false, font: { size: 16 } },
                    grid: { drawOnChartArea: false, tickLength: 10, color: axisColor },
                    border: { color: axisColor },
                    title: { display: true, text: p.label, font: { size: 20 }, padding: 0 },
                    afterFit: function (scale) {
                        scale.height = p.xHeight;
                        scale.paddingLeft = 0;
                        scale.paddingRight = 0;
                    }
                },
                y: {
                    type: 'linear',
                    reverse: true,
                    min: 0,
                    max: 50,
                    ticks: { stepSize: 10, padding: 5, font: { size: 16 } },
                    grid: { drawOnChartArea: false, tickLength: 11, color: axisColor },
                    border: { color: axisColor },
                    title: { display: true, text: 'Depth [m]', font: { size: 20 }, padding: 0 },
                    afterFit: function (scale) {
                        scale.width = p.yWidth;
                        scale.paddingTop = 0;
                        scale.paddingBottom = 0;
                    }
                }
            }
        },
        plugins: [minorTicks]
    });
}

drawPanel('tempChart', {
    label: 'Temperature [°C]', min: 0, max: 10, step: 2, minorX: tempTicksMinor,
    rows: tempRows, profileDepth: tempProfileDepth, profile: tempProfile, color: '#ff0000',
    left: 99.5, right: 421.7, top: 128.3, bottom: 450, xHeight: 60.8, yWidth: 63.5
});
drawPanel('salChart', {
    label: 'Salinity [g/kg]', min: 4, max: 28, step: 4, minorX: salTicksMinor,
    rows: salRows, profileDepth: salProfileDepth, profile: salProfile, color: '#3cc832',
    left: 501.7, right: 828.3, top: 126.7, bottom: 448.5, xHeight: 59.4, yWidth: 62.7
});
drawPanel('oxyChart', {
    label: 'Dissolved Oxygen [ml/l]', min: 2, max: 12, step: 2, minorX: oxyTicksMinor,
    rows: oxyRows, profileDepth: oxyProfileDepth, profile: oxyProfile, color: '#1ebeec',
    left: 909.3, right: 1230.7, top: 126.7, bottom: 444.5, xHeight: 59.4, yWidth: 63.3
});
</script>
</body>
</html>
